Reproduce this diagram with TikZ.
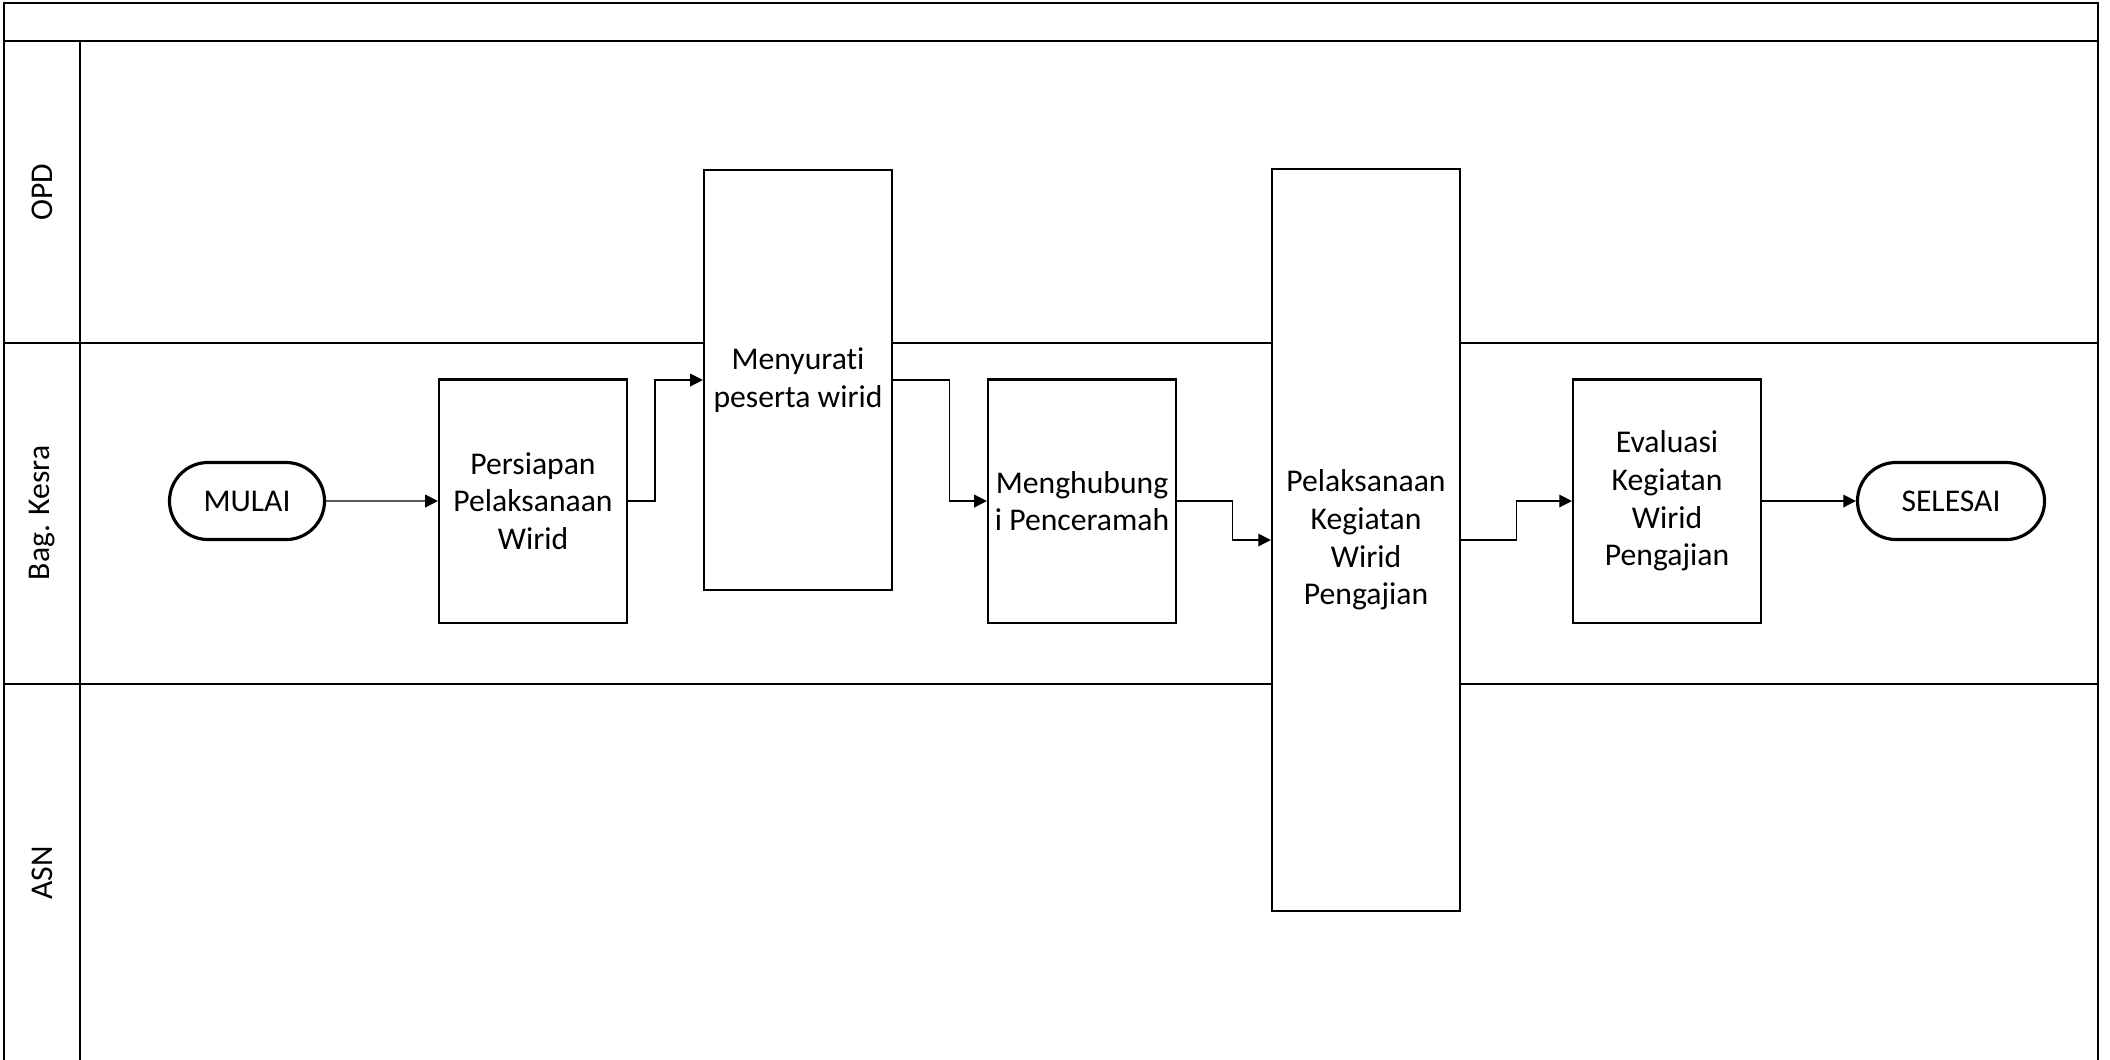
\documentclass[tikz,border=0pt]{standalone}
\usepackage{fontspec}
\setmainfont{Carlito}[Ligatures=NoCommon]
\usetikzlibrary{arrows.meta, positioning, calc, shapes.misc}

\begin{document}
\begin{tikzpicture}[x=0.01cm, y=-0.01cm, font=\fontsize{9}{10.7}\selectfont,
  proc/.style={draw, fill=white, line width=0.6pt, minimum width=1.88cm,
    minimum height=2.43cm, align=center, inner sep=1pt},
  term/.style={draw, fill=white, line width=0.9pt, rounded rectangle,
    minimum height=0.77cm, inner sep=2pt},
  flow/.style={-{Triangle[length=3.6pt, width=3.6pt]}, line width=0.4pt},
  lane/.style={line width=0.6pt}]
  \useasboundingbox (0,0) rectangle (2110,1059);
  % Swimlane frame
  \draw[lane] (4,1062) -- (4,3) -- (2098,3) -- (2098,1062);
  \draw[lane] (4,41) -- (2098,41);
  \foreach \yy in {343, 684} {
    \draw[lane] (4,\yy) -- (2098,\yy);
  }
  \draw[lane] (80,41) -- (80,1062);
  % Lane names
  \foreach \yy/\lname/\ltext in
    {192/opd/OPD, 513/kesra/Bag. Kesra, 873/asn/ASN} {
    \node[rotate=90] (\lname) at (42,\yy) {\ltext};
  }
  % Process steps
  \node[term, minimum width=1.69cm] (mulai) at (247,501) {MULAI};
  \node[proc] (persiapan) at (533,501) {Persiapan\\Pelaksanaan\\Wirid};
  \node[proc, minimum height=4.19cm] (menyurati) at (798,380)
    {Menyurati\\peserta wirid};
  \node[proc] (menghubungi) at (1082,501) {Menghubung\\i Penceramah};
  \node[proc, minimum height=7.41cm] (pelaksanaan) at (1366,540)
    {Pelaksanaan\\Kegiatan\\Wirid\\Pengajian};
  \node[proc] (evaluasi) at (1667,501) {Evaluasi\\Kegiatan\\Wirid\\Pengajian};
  \node[term, minimum width=2.01cm] (selesai) at (1951,501) {SELESAI};
  % Flow
  \draw[flow] (mulai) -- (persiapan);
  \draw[flow] (persiapan.east) -| ($(persiapan.east)!0.36!(menyurati.west)$)
    |- (menyurati.west);
  \draw[flow] (menyurati.east) -| ($(menyurati.east)!0.6!(menghubungi.west)$)
    |- (menghubungi.west);
  \draw[flow] (menghubungi.east) -| ($(menghubungi.east)!0.59!(pelaksanaan.west)$)
    |- (pelaksanaan.west);
  \draw[flow] (pelaksanaan.east) -| ($(pelaksanaan.east)!0.5!(evaluasi.west)$)
    |- (evaluasi.west);
  \draw[flow] (evaluasi) -- (selesai);
\end{tikzpicture}
\end{document}
